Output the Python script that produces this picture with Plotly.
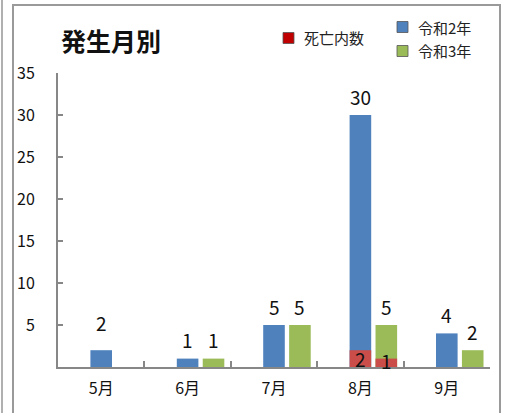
import plotly.graph_objects as go

# Monthly counts
months = ["5月", "6月", "7月", "8月", "9月"]
r2_counts = [2, 1, 5, 30, 4]          # 令和2年
r3_counts = [0, 1, 5, 5, 2]           # 令和3年
r2_deaths = [0, 0, 0, 2, 0]           # 死亡内数 (令和2年)
r3_deaths = [0, 0, 0, 1, 0]           # 死亡内数 (令和3年)
y_ticks = [5, 10, 15, 20, 25, 30, 35]

BLUE = "#4F81BD"
GREEN = "#9BBB59"
RED = "#CA4D4A"
RED_KEY = "#C00000"
GRAY = "#878787"
FONT = "Noto Sans CJK JP"

W, H = 507, 413
L, R, T, B = 58, 17, 73, 46
PW, PH = W - L - R, H - T - B


def px_x(x):
    return (x - L) / PW


def px_y(y):
    return (H - B - y) / PH


bar_w = 0.25
off_r2 = -0.125
off_r3 = 0.175

fig = go.Figure()
fig.add_bar(x=months, y=r2_counts, width=bar_w, offset=off_r2,
            marker=dict(color=BLUE, line_width=0), name="令和2年")
fig.add_bar(x=months, y=r3_counts, width=bar_w, offset=off_r3,
            marker=dict(color=GREEN, line_width=0), name="令和3年")
fig.add_bar(x=months, y=r2_deaths, width=bar_w, offset=off_r2,
            marker=dict(color=RED, line_width=0), name="死亡内数")
fig.add_bar(x=months, y=r3_deaths, width=bar_w, offset=off_r3,
            marker=dict(color=RED, line_width=0), name="死亡内数")

annotations = []
lab_font = dict(family=FONT, size=19, color="#111111")
for i, m in enumerate(months):
    cx2 = i + off_r2 + bar_w / 2
    cx3 = i + off_r3 + bar_w / 2
    if r2_counts[i]:
        annotations.append(dict(x=cx2, y=r2_counts[i], xref="x", yref="y",
                                text=str(r2_counts[i]), showarrow=False,
                                yshift=19 if i else 28, font=lab_font))
    if r3_counts[i]:
        annotations.append(dict(x=cx3, y=r3_counts[i], xref="x", yref="y",
                                text=str(r3_counts[i]), showarrow=False,
                                yshift=19, font=lab_font))
    if r2_deaths[i]:
        annotations.append(dict(x=cx2, y=r2_deaths[i] / 2, xref="x", yref="y",
                                text=str(r2_deaths[i]), showarrow=False,
                                font=lab_font))
    if r3_deaths[i]:
        annotations.append(dict(x=cx3, y=r3_deaths[i] / 2, xref="x", yref="y",
                                text=str(r3_deaths[i]), showarrow=False,
                                yshift=2, font=lab_font))

# Title
annotations.append(dict(x=px_x(59), y=px_y(40), xref="paper", yref="paper",
                        xanchor="left", yanchor="middle", showarrow=False,
                        text="<b>発生月別</b>",
                        font=dict(family=FONT, size=25, color="#111111")))

# Legend entries
leg_font = dict(family=FONT, size=15, color="#222222")
legend_items = [("死亡内数", RED_KEY, 283, 38, 302), ("令和2年", BLUE, 397, 27, 416),
                ("令和3年", GREEN, 397, 51, 416)]
shapes = []
for label, col, sx, cy, tx in legend_items:
    shapes.append(dict(type="rect", xref="paper", yref="paper",
                       x0=px_x(sx), x1=px_x(sx + 11), y0=px_y(cy - 5.5), y1=px_y(cy + 5.5),
                       fillcolor=col, line=dict(color="#555555", width=0.8)))
    annotations.append(dict(x=px_x(tx), y=px_y(cy), xref="paper", yref="paper",
                            xanchor="left", yanchor="middle", showarrow=False,
                            text=label, font=leg_font))

# Outer frame
shapes.append(dict(type="rect", xref="paper", yref="paper",
                   x0=px_x(13), x1=px_x(500), y0=px_y(425), y1=px_y(5),
                   line=dict(color="#9a9a9a", width=2), fillcolor="rgba(0,0,0,0)",
                   layer="below"))
shapes.append(dict(type="line", xref="paper", yref="paper",
                   x0=px_x(2), x1=px_x(2), y0=px_y(-5), y1=px_y(420),
                   line=dict(color="#b0b0b0", width=2)))

fig.update_layout(
    width=W, height=H,
    margin=dict(l=L, r=R, t=T, b=B),
    barmode="overlay",
    showlegend=False,
    paper_bgcolor="white",
    plot_bgcolor="white",
    font=dict(family=FONT, color="#111111"),
    annotations=annotations,
    shapes=shapes,
    xaxis=dict(type="category", range=[-0.5, 4.5], showline=True,
               linecolor=GRAY, linewidth=2, ticks="inside", tickson="boundaries",
               ticklen=6, tickcolor=GRAY, tickwidth=1.5, showgrid=False,
               tickfont=dict(family=FONT, size=16, color="#111111"),
               ticklabelstandoff=6, zeroline=False),
    yaxis=dict(range=[0, 35], tickvals=y_ticks, showline=True,
               linecolor=GRAY, linewidth=2, ticks="inside", ticklen=5,
               tickcolor=GRAY, tickwidth=1.5, showgrid=False, zeroline=False,
               tickfont=dict(family=FONT, size=16, color="#111111"),
               ticklabelstandoff=18),
)

fig.write_html("out.html")
